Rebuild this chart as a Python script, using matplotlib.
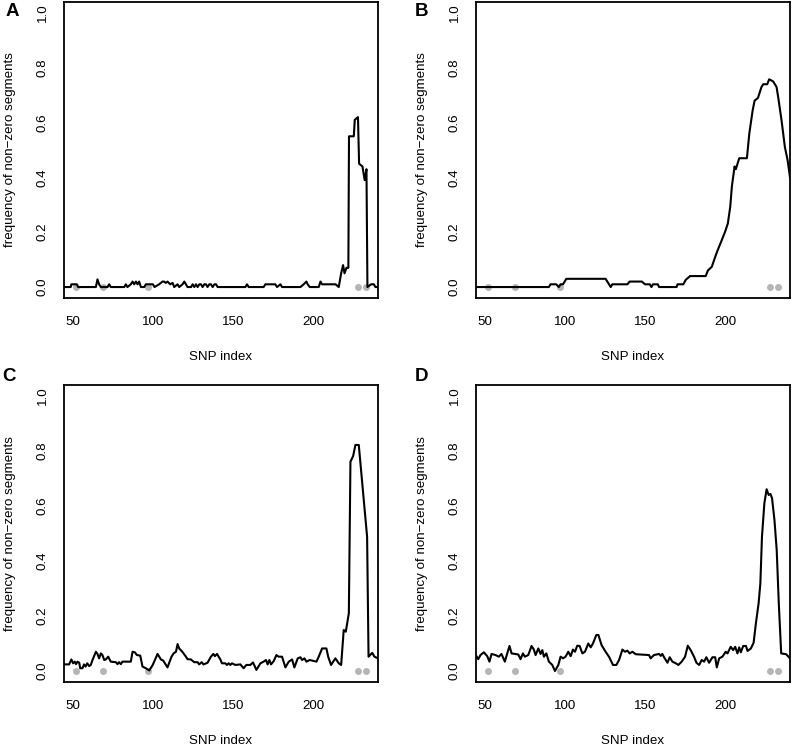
import matplotlib
matplotlib.use("Agg")
import matplotlib.pyplot as plt

plt.rcParams['font.family'] = ['Liberation Sans', 'DejaVu Sans']

# SNP positions marked with grey dots (same in every panel)
marker_snps = [52, 69, 97, 228, 233]

# panel A
a_x = [45, 48.7, 49.1, 52.5, 53.3, 64.4, 65.4, 66.4, 67.5, 71.7, 72.7, 73.7,
       82.1, 83.1, 84.1, 86.2, 87.3, 88.3, 89.4, 90.4, 91.4, 92.5, 94.6, 95.6,
       100, 101, 103.9, 106, 107, 108, 109.1, 110.8, 112.3, 113.3, 115.4, 116.4,
       118.5, 119.6, 120.6, 121.6, 123.8, 124.8, 125.8, 126.9, 127.9, 129, 130,
       131, 132.1, 133.1, 134.1, 135.2, 136.2, 137.3, 138.4, 139.4, 140.4,
       157.7, 158.7, 159.8, 169.1, 170.2, 176.4, 177.5, 179.6, 180.6, 192.1,
       194.1, 195.8, 196.6, 197.9, 203.5, 204.6, 205.6, 214, 216, 217.5, 218.7,
       219.6, 220.8, 222, 222.4, 225.4, 226, 228, 228.7, 230.8, 232.2, 233.3,
       233.9, 236.2, 237.9, 238.9, 240.5]
a_y = [0, 0, 0.01, 0.01, 0, 0, 0.028, 0.01, 0, 0, 0.01, 0,
       0, 0.01, 0, 0.01, 0.02, 0.01, 0.02, 0.01, 0.02, 0, 0, 0.01,
       0.01, 0, 0.01, 0.02, 0.02, 0.015, 0.02, 0.01, 0.015, 0, 0.01, 0,
       0.01, 0.02, 0.01, 0, 0, 0.01, 0, 0.01, 0, 0.01, 0.01,
       0, 0.01, 0.01, 0, 0.01, 0.01, 0, 0.01, 0.01, 0,
       0, 0.01, 0, 0, 0.01, 0.01, 0, 0.01, 0, 0,
       0.01, 0.02, 0.01, 0, 0, 0.02, 0.01, 0.01, 0, 0.05, 0.08,
       0.05, 0.07, 0.07, 0.55, 0.55, 0.61, 0.62, 0.45, 0.44, 0.39, 0.43,
       0, 0.01, 0.01, 0, 0]

# panel B
b_x = [45, 90, 91, 94.6, 96.2, 97.3, 98.8, 100.9, 125.4, 128.6, 129.6, 139,
       140.4, 148, 150, 153, 154, 155, 158, 158.8, 169.7, 170.3, 173.9, 175.4,
       178.1, 187.9, 189.2, 191.7, 193.8, 195.4, 197.9, 200, 201.7, 203.2,
       204.2, 205.9, 206.7, 208.8, 212.1, 213.6, 215.1, 217.2, 218.4, 220.5,
       222.7, 223.8, 226.3, 227.5, 228.5, 230, 232.1, 233.1, 235.2, 237.3,
       239, 240.5]
b_y = [0, 0, 0.01, 0.01, 0, 0.01, 0.01, 0.03, 0.03, 0, 0.01, 0.01,
       0.02, 0.02, 0.01, 0.01, 0, 0.01, 0.01, 0, 0, 0.01, 0.01, 0.026,
       0.04, 0.04, 0.06, 0.074, 0.11, 0.135, 0.171, 0.202, 0.232, 0.293,
       0.366, 0.44, 0.43, 0.47, 0.47, 0.47, 0.56, 0.645, 0.68, 0.69,
       0.73, 0.74, 0.74, 0.758, 0.755, 0.75, 0.73, 0.694, 0.609, 0.511,
       0.463, 0.40]

# panel C
c_x = [45, 47.7, 49.1, 50.2, 51.2, 52, 52.9, 54, 54.6, 56, 57, 58, 59, 60.2,
       61.2, 62.3, 64.4, 65.4, 66.4, 67.5, 68.5, 69.6, 70.6, 72.1, 73.7, 76.9,
       77.9, 78.9, 80, 81, 86.2, 87.3, 88.7, 90, 92.1, 93.5, 95.6, 97.7, 99.8,
       102.9, 105, 106.4, 109.1, 111.6, 112.9, 114.4, 115.4, 116.4, 118.5,
       120.6, 121.6, 123.7, 125.8, 127.9, 128.9, 130.4, 131.6, 134.1, 136.2,
       137.7, 138.7, 140, 142.1, 143.1, 145.2, 146.2, 147.3, 148.3, 149.4,
       151.4, 154.6, 156.6, 158.3, 160.8, 162.5, 164.6, 167.1, 169.1, 170.6,
       171.6, 172.7, 173.7, 175.4, 177.1, 178.5, 180.6, 182.7, 184.8, 186.9,
       188.3, 190.4, 192.1, 193.1, 194.6, 195.8, 197.9, 202.1, 203.5, 205.6,
       208.3, 209.4, 211.2, 213.9, 216, 217.5, 219.1, 220.4, 222.3, 223.3,
       225, 226.4, 228.5, 233.7, 234.6, 236.9, 238.3, 240.5]
c_y = [0.024, 0.024, 0.042, 0.028, 0.034, 0.025, 0.034, 0.03, 0.01, 0.01,
       0.024, 0.016, 0.028, 0.018, 0.022, 0.04, 0.07, 0.062, 0.046, 0.064,
       0.058, 0.04, 0.042, 0.052, 0.034, 0.032, 0.025, 0.032, 0.025, 0.034,
       0.034, 0.07, 0.068, 0.058, 0.056, 0.016, 0.01, 0.002, 0.021, 0.062,
       0.042, 0.038, 0.013, 0.052, 0.064, 0.07, 0.098, 0.082, 0.069, 0.052,
       0.043, 0.042, 0.032, 0.032, 0.024, 0.032, 0.024, 0.03, 0.052, 0.062,
       0.054, 0.062, 0.042, 0.028, 0.028, 0.022, 0.028, 0.022, 0.028, 0.022,
       0.024, 0.01, 0.022, 0.022, 0.031, 0.004, 0.028, 0.034, 0.04, 0.024,
       0.04, 0.024, 0.036, 0.058, 0.052, 0.052, 0.013, 0.034, 0.042, 0.013,
       0.046, 0.05, 0.04, 0.046, 0.034, 0.04, 0.034, 0.052, 0.082, 0.082,
       0.052, 0.022, 0.046, 0.028, 0.022, 0.149, 0.143, 0.21, 0.761, 0.782,
       0.822, 0.822, 0.488, 0.052, 0.066, 0.052, 0.046]

# panel D
d_x = [45, 45.9, 47.3, 49.4, 51.5, 52.9, 54.2, 56.7, 58.8, 60.4, 62.5, 64,
       65.4, 66.7, 68.8, 70.9, 72.3, 73.8, 75, 77.1, 79.2, 80.6, 81.7, 83.4,
       84.8, 85.9, 86.9, 88.4, 90, 92.1, 93.8, 95.9, 97.3, 98.8, 100.4, 102.1,
       103.6, 105, 106.3, 107.7, 109.2, 110.9, 112.5, 114.6, 116.1, 117.5,
       119.6, 120.9, 122.9, 125.4, 127.5, 130, 132.1, 133.8, 135.9, 137.5, 139,
       140.4, 142.1, 144.2, 152.5, 153.5, 155.6, 158.8, 159.8, 160.8, 161.9,
       164, 165.4, 167.1, 169.2, 170.8, 172.9, 175, 176.7, 178.5, 180.6, 182.1,
       183.8, 185.4, 186.9, 188.3, 190, 192.1, 193.8, 194.8, 196.3, 198.3,
       200.4, 201.5, 203.5, 205, 206.3, 207.7, 208.8, 209.8, 211.3, 213, 214,
       216.1, 217.8, 219.2, 220.9, 222, 223, 224.5, 225.9, 227.2, 228.3, 229.3,
       230.8, 232.2, 233.5, 235, 238.1, 240.5]
d_y = [0.052, 0.043, 0.058, 0.068, 0.054, 0.034, 0.062, 0.058, 0.052, 0.062,
       0.034, 0.064, 0.091, 0.064, 0.062, 0.06, 0.043, 0.064, 0.052, 0.058,
       0.091, 0.078, 0.058, 0.082, 0.062, 0.076, 0.052, 0.064, 0.034, 0.022,
       0.0, 0.022, 0.052, 0.046, 0.052, 0.07, 0.054, 0.078, 0.07, 0.092, 0.091,
       0.064, 0.07, 0.1, 0.086, 0.1, 0.131, 0.131, 0.094, 0.07, 0.052, 0.022,
       0.022, 0.04, 0.078, 0.07, 0.074, 0.064, 0.07, 0.061, 0.058, 0.046,
       0.058, 0.062, 0.055, 0.062, 0.05, 0.03, 0.05, 0.034, 0.028, 0.022,
       0.034, 0.052, 0.092, 0.076, 0.052, 0.03, 0.022, 0.04, 0.034, 0.05, 0.03,
       0.05, 0.05, 0.013, 0.046, 0.052, 0.07, 0.064, 0.088, 0.076, 0.088,
       0.064, 0.086, 0.068, 0.091, 0.091, 0.073, 0.082, 0.103, 0.173, 0.246,
       0.319, 0.488, 0.61, 0.661, 0.64, 0.644, 0.628, 0.549, 0.44, 0.246,
       0.064, 0.061, 0.046]

panels = [("A", a_x, a_y), ("B", b_x, b_y), ("C", c_x, c_y), ("D", d_x, d_y)]

W, H = 792, 747
fig = plt.figure(figsize=(W / 100, H / 100), dpi=100)

# axes boxes in pixels: left, top, width, height
boxes = [(64, 2, 314, 296), (476, 2, 314, 296),
         (64, 385, 314, 297), (476, 385, 314, 297)]
letter_pos = [(12, 12), (421, 12), (9, 377), (421, 377)]

for (letter, xs, ys), (bl, bt, bw, bh), (lx, ly) in zip(panels, boxes, letter_pos):
    ax = fig.add_axes([bl / W, 1 - (bt + bh) / H, bw / W, bh / H])
    ax.plot(marker_snps, [0] * len(marker_snps), 'o', color='#b5b5b5',
            markersize=5, markeredgewidth=0, zorder=1)
    ax.plot(xs, ys, color='black', linewidth=1.5, zorder=2)
    ax.set_xlim(44.5, 240.5)
    ax.set_ylim(-0.04, 1.04)
    ax.set_xticks([50, 100, 150, 200])
    ax.set_yticks([0, 0.2, 0.4, 0.6, 0.8, 1.0])
    ax.set_yticklabels(["0.0", "0.2", "0.4", "0.6", "0.8", "1.0"],
                       rotation=90, va='center')
    ax.tick_params(axis='x', length=0, pad=13, labelsize=9.6)
    ax.tick_params(axis='y', length=0, pad=11, labelsize=9.6)
    for s in ax.spines.values():
        s.set_linewidth(1.3)
    ax.text(0.5, -59 / bh, "SNP index", transform=ax.transAxes,
            ha='center', va='center', fontsize=9.6)
    ax.text(-54 / bw, 0.5, "frequency of non\u2212zero segments",
            transform=ax.transAxes, rotation=90, ha='center', va='center',
            fontsize=9.6)
    fig.text(lx / W, 1 - ly / H, letter, fontsize=13.5, fontweight='bold',
             ha='center', va='center')

fig.savefig("out.png", dpi=100)
